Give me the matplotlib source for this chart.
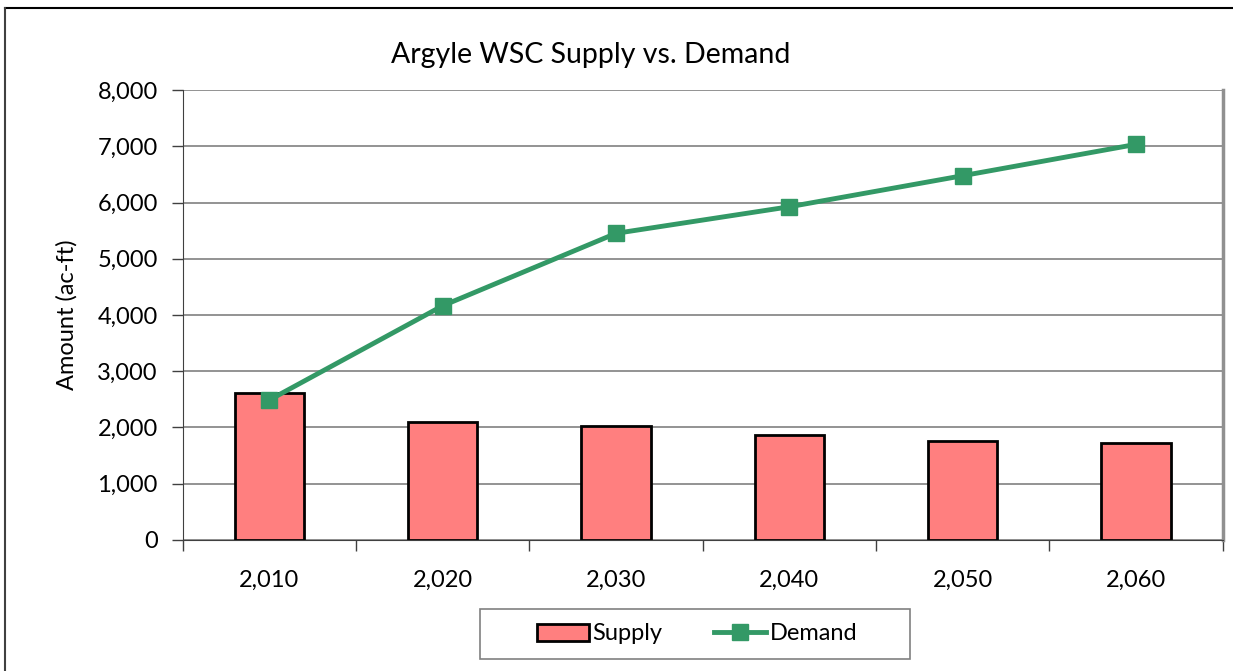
import numpy as np
import matplotlib.pyplot as plt
from matplotlib.lines import Line2D
from matplotlib.patches import Rectangle

plt.rcParams['font.family'] = ['Lato', 'DejaVu Sans']

years = ['2,010', '2,020', '2,030', '2,040', '2,050', '2,060']
supply = [2617, 2090, 2024, 1858, 1757, 1727]
demand = [2487, 4165, 5454, 5927, 6480, 7038]

W, H = 1233, 671
fig = plt.figure(figsize=(W / 100, H / 100), dpi=100)
ax = fig.add_axes([0.1482, 0.1957, 0.8435, 0.6697])

x = np.arange(len(years))
ax.bar(x, supply, width=0.4, color='#FF7F7F', edgecolor='black', linewidth=2,
       label='Supply', zorder=2)
ax.plot(x, demand, color='#339966', linewidth=3.5, marker='s', markersize=12,
        label='Demand', zorder=3)

ax.set_xlim(-0.5, len(years) - 0.5)
ax.set_ylim(0, 8000)
ax.set_yticks(np.arange(0, 8001, 1000))
ax.set_yticklabels([f'{v:,}' for v in range(0, 8001, 1000)])
ax.set_xticks(x)
ax.set_xticklabels(years)
ax.set_xticks(np.arange(-0.5, len(years), 1), minor=True)
ax.tick_params(axis='x', which='major', length=0, pad=22, labelsize=17)
ax.tick_params(axis='x', which='minor', length=8, width=1, color='#404040')
ax.tick_params(axis='y', length=8, width=1, color='#404040', labelsize=17, pad=10)

ax.grid(axis='y', color='#808080', linewidth=1.2, zorder=0)
ax.set_axisbelow(True)
ax.spines['top'].set_visible(False)
ax.spines['right'].set_color('#909090')
ax.spines['right'].set_linewidth(2.5)
ax.spines['left'].set_color('#404040')
ax.spines['bottom'].set_color('#404040')

ax.set_ylabel('Amount (ac-ft)', fontsize=17, labelpad=14)
fig.text(591 / W, 1 - 55 / H, 'Argyle WSC Supply vs. Demand', fontsize=20.5,
         ha='center', va='center')

# legend box
fig.add_artist(Rectangle((480 / W, 1 - 659 / H), 430 / W, 50 / H,
                         transform=fig.transFigure, facecolor='white',
                         edgecolor='#808080', linewidth=1.2))
handles = [Rectangle((0, 0), 1, 1, facecolor='#FF7F7F', edgecolor='black', linewidth=2),
           Line2D([], [], color='#339966', linewidth=3.5, marker='s', markersize=12)]
fig.legend(handles, ['Supply', 'Demand'], loc='center',
           bbox_to_anchor=(697 / W, 1 - 634 / H), ncol=2, fontsize=17,
           frameon=False, handlelength=2.2, handletextpad=0.15,
           columnspacing=2.2)

# outer chart frame (top and left edges visible)
fig.add_artist(Line2D([5 / W, 1232 / W], [1 - 8 / H, 1 - 8 / H],
                      color='black', linewidth=1.5))
fig.add_artist(Line2D([5 / W, 5 / W], [0, 1 - 8 / H],
                      color='#404040', linewidth=1.5))

fig.savefig('out.png', dpi=100)
